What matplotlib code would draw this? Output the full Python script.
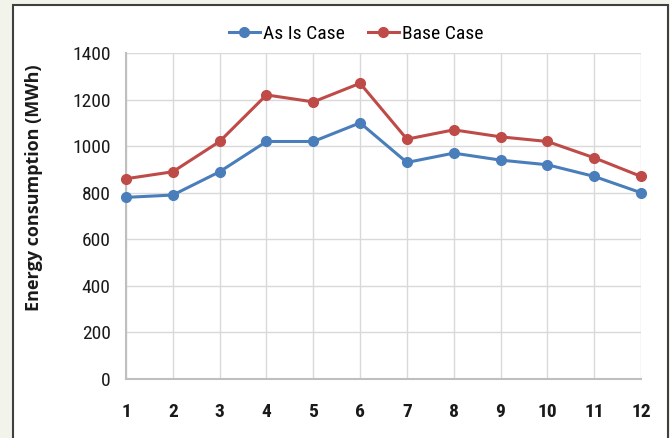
import matplotlib

matplotlib.use("Agg")
import matplotlib.pyplot as plt
from matplotlib.patches import Rectangle

months = list(range(1, 13))
as_is = [780, 790, 890, 1020, 1020, 1100, 930, 970, 940, 920, 870, 800]
base = [860, 890, 1020, 1220, 1190, 1270, 1030, 1070, 1040, 1020, 950, 870]
y_ticks = [0, 200, 400, 600, 800, 1000, 1200, 1400]

NARROW = ["Liberation Sans Narrow", "Roboto Condensed", "Roboto", "DejaVu Sans"]

fig = plt.figure(figsize=(6.7, 4.38), dpi=100)
fig.patch.set_facecolor("#f2f3ea")

# white chart box with dark border, kept behind the axes
box = Rectangle((13 / 670, -0.05), 655 / 670, 1 - 5 / 438 + 0.05,
                transform=fig.transFigure, facecolor="white",
                edgecolor="#404040", linewidth=1.5, zorder=-10)
fig.add_artist(box)

ax = fig.add_axes([126 / 670, 1 - 379 / 438, 515 / 670, 326 / 438])
ax.set_zorder(1)
ax.set_facecolor("white")

ax.plot(months, as_is, "-o", color="#4a7ebb", lw=2.2, ms=7, label="As Is Case",
        clip_on=False, zorder=3)
ax.plot(months, base, "-o", color="#be4b48", lw=2.2, ms=7, label="Base Case",
        clip_on=False, zorder=3)

ax.set_xlim(1, 12)
ax.set_ylim(0, 1400)
ax.set_xticks(months)
ax.set_yticks(y_ticks)
ax.grid(True, color="#d9d9d9", lw=1)
ax.set_axisbelow(True)
ax.tick_params(length=0)
ax.tick_params(axis="x", pad=17)
ax.tick_params(axis="y", pad=11)
for lab in ax.get_xticklabels():
    lab.set_family(NARROW)
    lab.set_fontweight("bold")
    lab.set_fontsize(14)
    lab.set_color("#1a1a1a")
for lab in ax.get_yticklabels():
    lab.set_family(NARROW)
    lab.set_fontsize(14)
    lab.set_color("#1a1a1a")

for side in ["top", "right"]:
    ax.spines[side].set_visible(False)
ax.spines["left"].set_color("#bfbfbf")
ax.spines["bottom"].set_color("#bfbfbf")
ax.spines["left"].set_linewidth(1.5)
ax.spines["bottom"].set_linewidth(1.5)

fig.text(34 / 670, 1 - 188 / 438, "Energy consumption (MWh)", rotation=90,
         ha="center", va="center", fontsize=13, fontweight="bold",
         family="Open Sans", color="#1a1a1a")

fig.legend(*ax.get_legend_handles_labels(), loc="center",
           bbox_to_anchor=(356 / 670, 1 - 34 / 438), ncol=2, frameon=False,
           prop={"family": NARROW, "size": 14}, handlelength=1.6,
           handletextpad=0.15, columnspacing=1.2, borderpad=0)

plt.savefig("out.png", dpi=100, facecolor=fig.get_facecolor())
